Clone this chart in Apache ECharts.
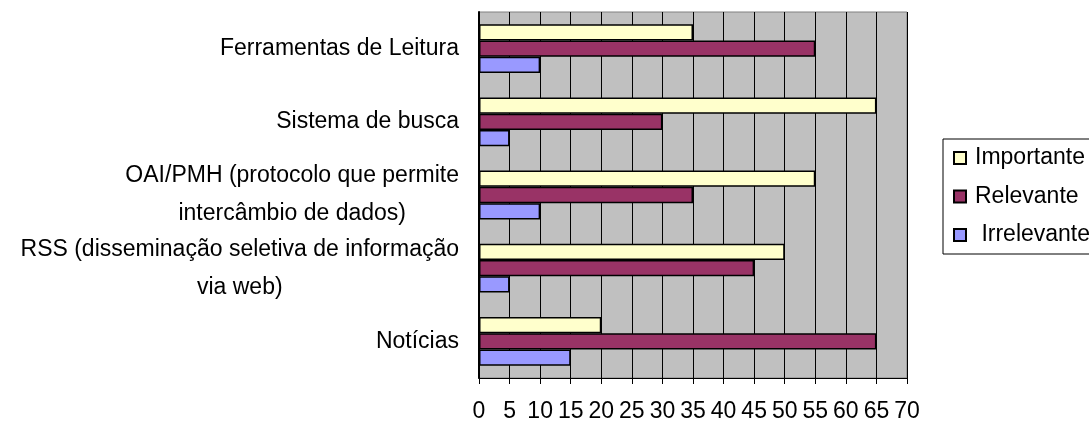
<!DOCTYPE html>
<html>
<head>
<meta charset="utf-8">
<script src="https://cdn.jsdelivr.net/npm/echarts@6/dist/echarts.min.js"></script>
<style>
  html, body { margin: 0; padding: 0; background: #fff; }
  #chart { width: 1089px; height: 423px; }
</style>
</head>
<body>
<div id="chart"></div>
<script>
// categories top to bottom
const categories = [
  'Ferramentas de Leitura',
  'Sistema de busca',
  'OAI/PMH (protocolo que permite\nintercâmbio de dados)',
  'RSS (disseminação seletiva de informação\nvia web)',
  'Notícias'
];
const seriesNames = ['Importante', 'Relevante', ' Irrelevante'];
const importante = [35, 65, 55, 50, 20];
const relevante = [55, 30, 35, 45, 65];
const irrelevante = [10, 5, 10, 5, 15];
const colors = ['#FFFFCC', '#993366', '#9999FF'];

const font = 'Liberation Sans, Arial, sans-serif';
const chart = echarts.init(document.getElementById('chart'));

const makeSeries = (name, data, idx) => ({
  name: name,
  type: 'bar',
  data: data,
  barGap: '0%',
  barCategoryGap: '33.3%',
  itemStyle: {
    color: colors[idx],
    borderColor: '#000',
    borderWidth: 1.5
  },
  emphasis: { disabled: true }
});

const option = {
  animation: false,
  backgroundColor: '#fff',
  grid: {
    left: 479,
    right: 182,
    top: 12,
    bottom: 42,
    show: true,
    backgroundColor: '#c0c0c0',
    borderColor: '#808080',
    borderWidth: 1
  },
  legend: {
    orient: 'vertical',
    left: 943,
    top: 139,
    padding: [7.5, 10, 7.5, 10],
    backgroundColor: '#fff',
    borderColor: '#000',
    borderWidth: 1,
    borderRadius: 0,
    itemWidth: 12,
    itemHeight: 12,
    itemGap: 15.5,
    icon: 'rect',
    textStyle: {
      fontFamily: font,
      fontSize: 23,
      lineHeight: 23,
      color: '#000',
      padding: [0, 0, 0, 4]
    },
    data: seriesNames
  },
  xAxis: {
    type: 'value',
    min: 0,
    max: 70,
    interval: 5,
    axisLine: { show: true, lineStyle: { color: '#000', width: 1 } },
    axisTick: { show: true, length: 6, lineStyle: { color: '#000' } },
    splitLine: { show: true, lineStyle: { color: '#000', width: 1 } },
    axisLabel: {
      margin: 22,
      fontFamily: font,
      fontSize: 23,
      color: '#000'
    }
  },
  yAxis: {
    type: 'category',
    inverse: true,
    data: categories,
    axisLine: { show: true, lineStyle: { color: '#000', width: 2 } },
    axisTick: { show: false },
    splitLine: { show: false },
    axisLabel: {
      margin: 20,
      color: '#000',
      fontFamily: font,
      fontSize: 23,
      lineHeight: 38,
      formatter: (v) => v.split('\n').map((s) => '{c|' + s + '}').join('\n'),
      rich: {
        c: {
          align: 'center',
          fontFamily: font,
          fontSize: 23,
          lineHeight: 38,
          color: '#000'
        }
      }
    }
  },
  series: [
    makeSeries(seriesNames[0], importante, 0),
    makeSeries(seriesNames[1], relevante, 1),
    makeSeries(seriesNames[2], irrelevante, 2)
  ]
};

chart.setOption(option);
</script>
</body>
</html>
